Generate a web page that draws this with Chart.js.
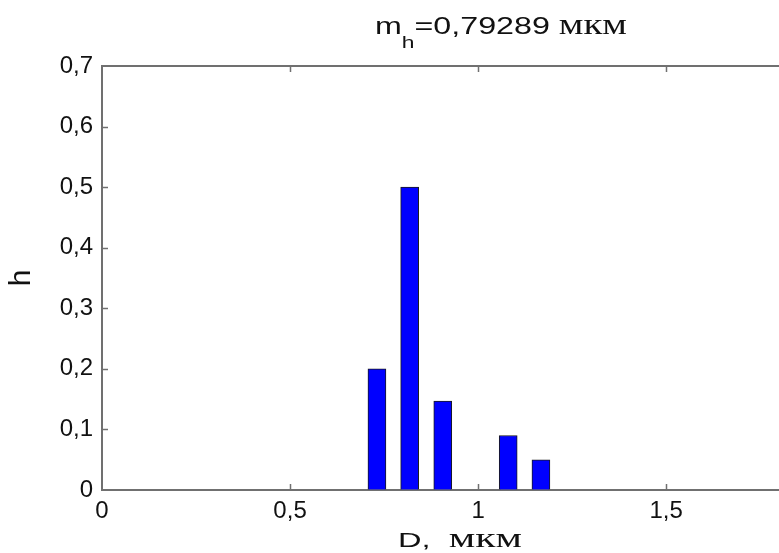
<!DOCTYPE html>
<html>
<head>
<meta charset="utf-8">
<script src="https://cdn.jsdelivr.net/npm/chart.js@4.4.0/dist/chart.umd.min.js"></script>
<style>
  html, body { margin: 0; padding: 0; background: #fff; overflow: hidden; }
  #wrap { width: 779px; height: 553px; }
</style>
</head>
<body>
<div id="wrap"><canvas id="chart" width="779" height="553"></canvas></div>
<script>
// histogram data
const binCenters = [0.731, 0.818, 0.906, 0.993, 1.08, 1.167];
const hValues = [0.2, 0.5, 0.147, 0, 0.09, 0.05];
const xTicks = [0, 0.5, 1, 1.5];
const yTicks = [0, 0.1, 0.2, 0.3, 0.4, 0.5, 0.6, 0.7];

// text pieces (mixed fonts, like the MATLAB figure)
const titleParts = [
  { text: "m", font: '24px "Liberation Sans"' },
  { text: "h", font: '17px "Liberation Sans"', dy: 14 },
  { text: "=0,79289 ", font: '24px "Liberation Sans"' },
  { text: "мкм", font: '29px "Liberation Serif"' },
];
const xLabelParts = [
  { text: "D,  ", font: '21px "Liberation Sans"' },
  { text: "мкм", font: '27px "Liberation Serif"' },
];
const yLabel = "h";

const fmt = (v) => String(Math.round(v * 10) / 10).replace(".", ",");

// draws a row of text pieces, stretched to a given width
function drawRich(ctx, parts, left, baseline, width) {
  ctx.save();
  let natural = 0;
  parts.forEach((p) => { ctx.font = p.font; natural += ctx.measureText(p.text).width; });
  ctx.translate(left, baseline);
  ctx.scale(width / natural, 1);
  ctx.fillStyle = "#111";
  ctx.textBaseline = "alphabetic";
  let x = 0;
  parts.forEach((p) => {
    ctx.font = p.font;
    ctx.fillText(p.text, x, p.dy || 0);
    x += ctx.measureText(p.text).width;
  });
  ctx.restore();
}

// top box line, inward ticks and texts
const framePlugin = {
  id: "frame",
  afterDraw(chart) {
    const { ctx, chartArea: a, scales: { x, y } } = chart;
    ctx.save();
    ctx.strokeStyle = "#707070";
    ctx.lineWidth = 2;
    ctx.beginPath();
    ctx.moveTo(a.left - 1, a.top);
    ctx.lineTo(a.right, a.top);
    ctx.stroke();

    ctx.lineWidth = 1.5;
    x.ticks.forEach((t) => {
      const px = Math.round(x.getPixelForValue(t.value)) + 0.5;
      if (px <= a.left + 2) return;
      ctx.beginPath();
      ctx.moveTo(px, a.bottom);
      ctx.lineTo(px, a.bottom - 6);
      ctx.moveTo(px, a.top);
      ctx.lineTo(px, a.top + 6);
      ctx.stroke();
    });
    y.ticks.forEach((t) => {
      const py = Math.round(y.getPixelForValue(t.value)) + 0.5;
      if (py >= a.bottom - 2 || py <= a.top + 2) return;
      ctx.beginPath();
      ctx.moveTo(a.left, py);
      ctx.lineTo(a.left + 6, py);
      ctx.stroke();
    });
    ctx.restore();

    drawRich(ctx, titleParts, 375, 34, 252);
    drawRich(ctx, xLabelParts, 398, 547, 124);
  },
};

new Chart(document.getElementById("chart"), {
  type: "bar",
  data: {
    datasets: [
      {
        data: binCenters.map((c, i) => ({ x: c, y: hValues[i] })),
        backgroundColor: "#0000ff",
        borderColor: "#1a1a1a",
        borderWidth: 1,
        barThickness: 18,
      },
    ],
  },
  plugins: [framePlugin],
  options: {
    responsive: false,
    animation: false,
    devicePixelRatio: 1,
    layout: { padding: { top: 66, right: 0, left: 0, bottom: 0 } },
    plugins: { legend: { display: false }, tooltip: { enabled: false } },
    scales: {
      x: {
        type: "linear",
        offset: false,
        min: 0,
        max: 1.8,
        afterBuildTicks: (s) => { s.ticks = xTicks.map((v) => ({ value: v })); },
        afterFit: (s) => { s.height = 63; },
        grid: { offset: false, drawOnChartArea: false, drawTicks: false },
        border: { display: true, color: "#707070", width: 2 },
        ticks: {
          padding: 7,
          color: "#111",
          font: { family: "Liberation Sans", size: 24 },
          callback: (v) => fmt(v),
        },
      },
      y: {
        min: 0,
        max: 0.7,
        afterBuildTicks: (s) => { s.ticks = yTicks.map((v) => ({ value: v })); },
        afterFit: (s) => { s.width = 102; },
        grid: { drawOnChartArea: false, drawTicks: false },
        border: { display: true, color: "#707070", width: 2 },
        ticks: {
          padding: 9,
          color: "#111",
          font: { family: "Liberation Sans", size: 24 },
          callback: (v) => fmt(v),
        },
        title: {
          display: true,
          text: yLabel,
          color: "#111",
          font: { family: "Liberation Sans", size: 30 },
          padding: { top: 4, bottom: 0 },
        },
      },
    },
  },
});
</script>
</body>
</html>
